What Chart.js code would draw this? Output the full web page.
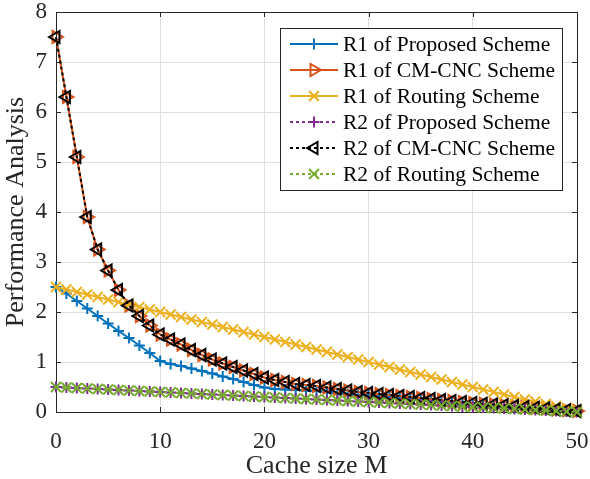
<!DOCTYPE html>
<html>
<head>
<meta charset="utf-8">
<script src="https://cdn.jsdelivr.net/npm/chart.js"></script>
<style>
  html, body { margin: 0; padding: 0; background: #fff; }
  canvas { display: block; }
</style>
</head>
<body>
<canvas id="grafico" width="590" height="479"></canvas>
<script>
const cacheSize = [0,1,2,3,4,5,6,7,8,9,10,11,12,13,14,15,16,17,18,19,20,21,22,23,24,25,
  26,27,28,29,30,31,32,33,34,35,36,37,38,39,40,41,42,43,44,45,46,47,48,49,50];

const r1Proposed = [2.50,2.37,2.22,2.07,1.92,1.77,1.62,1.48,1.33,1.18,
  1.02,0.96,0.92,0.87,0.82,0.77,0.71,0.66,0.60,0.54,
  0.49,0.46,0.45,0.44,0.43,0.42,0.40,0.38,0.36,0.34,
  0.33,0.31,0.29,0.27,0.26,0.24,0.22,0.20,0.19,0.17,
  0.16,0.14,0.13,0.11,0.10,0.08,0.07,0.05,0.04,0.02,0.01];

const r1CmCnc = [7.50,6.30,5.10,3.90,3.25,2.83,2.44,2.13,1.92,1.73,
  1.55,1.45,1.35,1.24,1.14,1.05,0.97,0.90,0.83,0.76,
  0.69,0.64,0.60,0.56,0.54,0.52,0.49,0.46,0.43,0.40,
  0.38,0.36,0.34,0.32,0.30,0.28,0.26,0.24,0.22,0.20,
  0.18,0.165,0.15,0.135,0.12,0.10,0.085,0.07,0.05,0.035,0.02];

const r1Routing = [2.50,2.45,2.40,2.35,2.30,2.25,2.20,2.15,2.10,2.05,
  2.00,1.95,1.90,1.85,1.80,1.75,1.70,1.65,1.60,1.55,
  1.50,1.45,1.40,1.35,1.30,1.25,1.20,1.15,1.10,1.05,
  1.00,0.95,0.90,0.85,0.80,0.75,0.70,0.65,0.60,0.55,
  0.50,0.45,0.40,0.35,0.30,0.25,0.21,0.16,0.12,0.08,0.04];

const r2Proposed = [0.50,0.49,0.48,0.47,0.46,0.45,0.44,0.43,0.42,0.41,
  0.40,0.39,0.38,0.37,0.36,0.35,0.34,0.33,0.32,0.31,
  0.30,0.29,0.28,0.27,0.26,0.25,0.24,0.23,0.22,0.21,
  0.20,0.19,0.18,0.17,0.16,0.15,0.14,0.13,0.12,0.11,
  0.10,0.09,0.08,0.07,0.06,0.05,0.04,0.03,0.02,0.01,0.00];

const r2CmCnc = [7.50,6.30,5.10,3.90,3.25,2.83,2.44,2.13,1.92,1.73,
  1.55,1.45,1.35,1.24,1.14,1.05,0.97,0.90,0.83,0.76,
  0.69,0.64,0.60,0.56,0.54,0.52,0.49,0.46,0.43,0.40,
  0.38,0.36,0.34,0.32,0.30,0.28,0.26,0.24,0.22,0.20,
  0.18,0.165,0.15,0.135,0.12,0.10,0.085,0.07,0.05,0.035,0.02];

const r2Routing = [0.50,0.49,0.48,0.47,0.46,0.45,0.44,0.43,0.42,0.41,
  0.40,0.39,0.38,0.37,0.36,0.35,0.34,0.33,0.32,0.31,
  0.30,0.29,0.28,0.27,0.26,0.25,0.24,0.23,0.22,0.21,
  0.20,0.19,0.18,0.17,0.16,0.15,0.14,0.13,0.12,0.11,
  0.10,0.09,0.08,0.07,0.06,0.05,0.04,0.03,0.02,0.01,0.00];

const seriesLabels = ['R1 of Proposed Scheme', 'R1 of CM-CNC Scheme', 'R1 of Routing Scheme',
  'R2 of Proposed Scheme', 'R2 of CM-CNC Scheme', 'R2 of Routing Scheme'];
const xTicks = [0, 10, 20, 30, 40, 50];
const yTicks = [0, 1, 2, 3, 4, 5, 6, 7, 8];

const serif = '"Liberation Serif", "Times New Roman", serif';
const corEixo = '#262626';

// monta uma serie no formato do Chart.js
function serie(i, valores, cor, estilo, rotacao, raio, pontilhado) {
  return {
    label: seriesLabels[i],
    data: valores.map((v, k) => ({ x: cacheSize[k], y: v })),
    borderColor: cor,
    borderWidth: 2,
    borderDash: pontilhado ? [3, 3] : [],
    backgroundColor: 'rgba(0,0,0,0)',
    pointStyle: estilo,
    pointRotation: rotacao,
    pointRadius: raio,
    pointBorderWidth: 2,
    pointBorderColor: cor,
    pointBackgroundColor: 'rgba(0,0,0,0)',
    tension: 0,
    clip: false,
    order: 5 - i
  };
}

// caixa do eixo com ticks para dentro (estilo MATLAB)
const moldura = {
  id: 'moldura',
  beforeDatasetsDraw(chart) {
    const { ctx, chartArea: a, scales: { x, y } } = chart;
    ctx.save();
    ctx.strokeStyle = corEixo;
    ctx.lineWidth = 1;
    ctx.beginPath();
    xTicks.forEach(v => {
      const px = Math.round(x.getPixelForValue(v)) + 0.5;
      ctx.moveTo(px, a.bottom); ctx.lineTo(px, a.bottom - 5);
      ctx.moveTo(px, a.top); ctx.lineTo(px, a.top + 5);
    });
    yTicks.forEach(v => {
      const py = Math.round(y.getPixelForValue(v)) + 0.5;
      ctx.moveTo(a.left, py); ctx.lineTo(a.left + 5, py);
      ctx.moveTo(a.right, py); ctx.lineTo(a.right - 5, py);
    });
    ctx.stroke();
    ctx.strokeRect(Math.round(a.left) + 0.5, Math.round(a.top) + 0.5,
      Math.round(a.width), Math.round(a.height));
    ctx.restore();
  }
};

// legenda dentro do grafico, canto superior direito
const legenda = {
  id: 'legenda',
  afterDraw(chart) {
    const { ctx, chartArea: a } = chart;
    const sets = chart.data.datasets;
    ctx.save();
    ctx.font = '21.5px ' + serif;
    const largura = Math.max(...sets.map(d => ctx.measureText(d.label).width));
    const w = Math.round(10 + 48 + 5 + largura + 7);
    const linha = 26;
    const h = sets.length * linha + 6;
    const x0 = Math.round(a.right - 15 - w), y0 = Math.round(a.top + 16);
    ctx.fillStyle = '#fff';
    ctx.fillRect(x0, y0, w, h);
    ctx.strokeStyle = corEixo;
    ctx.lineWidth = 1;
    ctx.strokeRect(x0 + 0.5, y0 + 0.5, w, h);
    sets.forEach((d, i) => {
      const cy = y0 + 3 + linha * (i + 0.5);
      ctx.strokeStyle = d.borderColor;
      ctx.lineWidth = d.borderWidth;
      ctx.setLineDash(d.borderDash);
      ctx.beginPath();
      ctx.moveTo(x0 + 10, cy);
      ctx.lineTo(x0 + 58, cy);
      ctx.stroke();
      ctx.setLineDash([]);
      ctx.fillStyle = 'rgba(0,0,0,0)';
      ctx.lineWidth = d.pointBorderWidth;
      Chart.helpers.drawPoint(ctx, {
        pointStyle: d.pointStyle, rotation: d.pointRotation,
        radius: d.pointRadius, borderWidth: d.pointBorderWidth
      }, x0 + 34, cy);
      ctx.fillStyle = '#000';
      ctx.textAlign = 'left';
      ctx.textBaseline = 'middle';
      ctx.fillText(d.label, x0 + 63, cy + 1);
    });
    ctx.restore();
  }
};

new Chart(document.getElementById('grafico'), {
  type: 'line',
  data: {
    datasets: [
      serie(0, r1Proposed, '#0072BD', 'cross', 0, 5.5, false),
      serie(1, r1CmCnc, '#D95319', 'triangle', 90, 7, false),
      serie(2, r1Routing, '#EDB120', 'crossRot', 0, 7, false),
      serie(3, r2Proposed, '#7E2F8E', 'cross', 0, 5.5, true),
      serie(4, r2CmCnc, '#000000', 'triangle', -90, 7, true),
      serie(5, r2Routing, '#77AC30', 'crossRot', 0, 7, true)
    ]
  },
  options: {
    responsive: false,
    animation: false,
    layout: { autoPadding: false, padding: { top: 12, right: 13, left: 0, bottom: 0 } },
    plugins: {
      legend: { display: false },
      tooltip: { enabled: false }
    },
    scales: {
      x: {
        type: 'linear',
        min: 0,
        max: 50,
        afterBuildTicks: s => { s.ticks = xTicks.map(v => ({ value: v })); },
        afterFit: s => { s.height = 67; s.paddingLeft = 0; s.paddingRight = 0; },
        grid: { color: '#dfdfdf', drawTicks: false },
        border: { display: false },
        ticks: { color: corEixo, padding: 16, maxRotation: 0,
          font: { family: serif, size: 23 } },
        title: { display: true, text: 'Cache size M', color: corEixo,
          padding: { top: 0, bottom: 0 },
          font: { family: serif, size: 26, lineHeight: 1 } }
      },
      y: {
        min: 0,
        max: 8,
        afterBuildTicks: s => { s.ticks = yTicks.map(v => ({ value: v })); },
        afterFit: s => { s.width = 56; s.paddingTop = 0; s.paddingBottom = 0; },
        grid: { color: '#dfdfdf', drawTicks: false },
        border: { display: false },
        ticks: { color: corEixo, padding: 9,
          font: { family: serif, size: 23 } },
        title: { display: true, text: 'Performance Analysis', color: corEixo,
          padding: { top: 3, bottom: 0 },
          font: { family: serif, size: 26, lineHeight: 1 } }
      }
    }
  },
  plugins: [moldura, legenda]
});
</script>
</body>
</html>
